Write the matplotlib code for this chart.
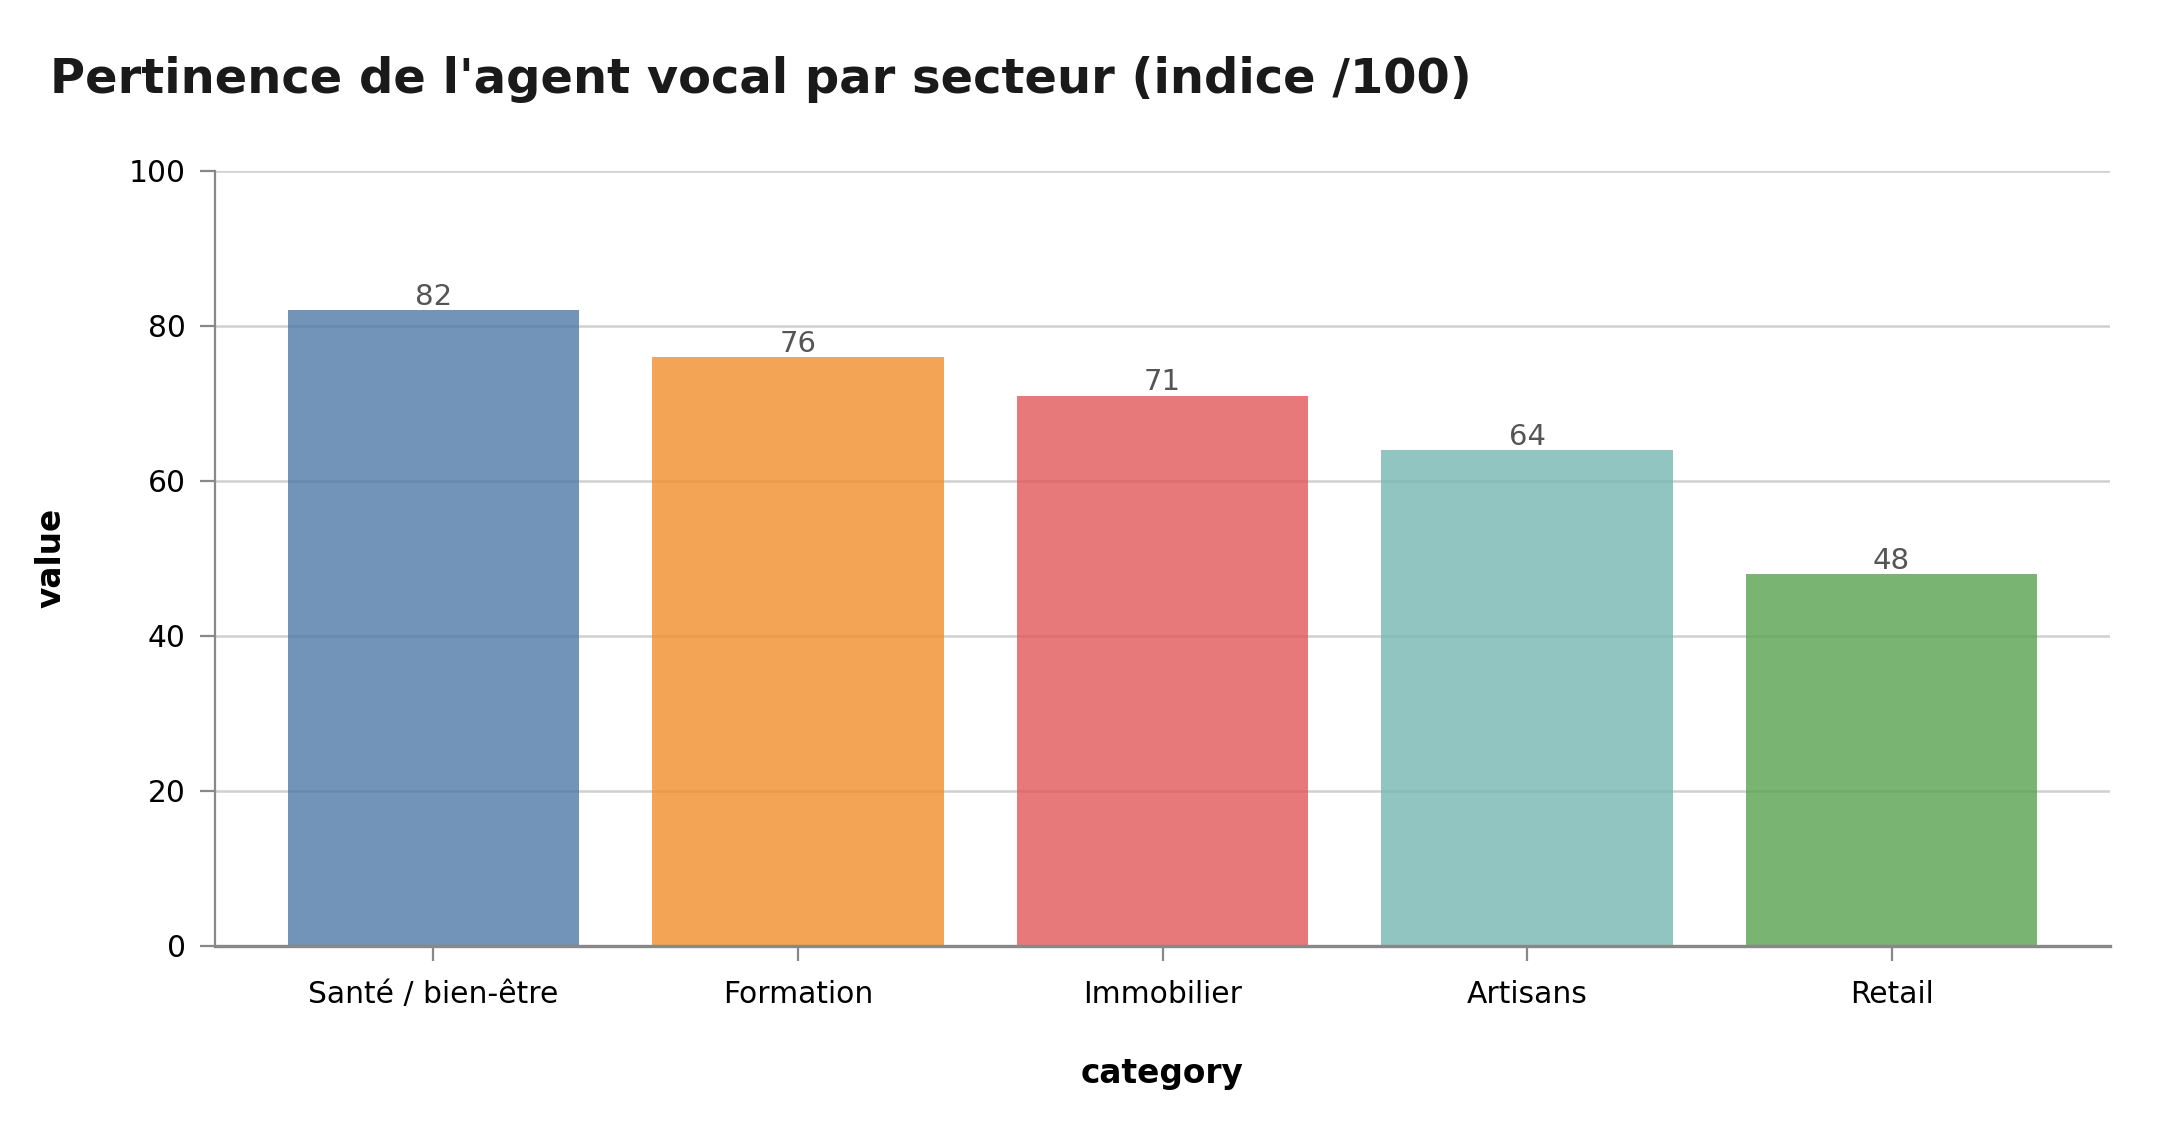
import numpy as np
import matplotlib.pyplot as plt

categories = ['Santé / bien-être', 'Formation', 'Immobilier', 'Artisans', 'Retail']
values = [82, 76, 71, 64, 48]
colors = ['#4e79a7', '#f28e2b', '#e15759', '#76b7b2', '#59a14f']
y_ticks = [0, 20, 40, 60, 80, 100]

plt.rcParams['font.family'] = ['DejaVu Sans']

fig = plt.figure(figsize=(10.8, 5.7), dpi=200)
ax = fig.add_axes([0.0994, 0.1705, 0.8776, 0.6795])

x = np.arange(len(categories))
bars = ax.bar(x, values, width=0.8, color=colors, alpha=0.8, zorder=2)

# etiquettes au-dessus des barres
for xi, v in zip(x, values):
    ax.text(xi, v - 0.1, str(v), ha='center', va='bottom', fontsize=10.5, color='#555555')

ax.set_xlim(-0.6, 4.6)
ax.set_ylim(0, 100)
ax.set_yticks(y_ticks)
ax.set_xticks(x)
ax.set_xticklabels(categories)
ax.grid(axis='y', color='#d0d0d0', linewidth=0.9, zorder=0)

for s in ['top', 'right']:
    ax.spines[s].set_visible(False)
ax.spines['left'].set_color('#888888')
ax.spines['bottom'].set_color('#888888')
ax.spines['bottom'].set_linewidth(1.2)
ax.tick_params(axis='x', colors='#888888', labelcolor='black', length=5.5, pad=7, labelsize=10.7)
ax.tick_params(axis='y', colors='#888888', labelcolor='black', length=5.5, pad=5, labelsize=10.7)

ax.set_xlabel('category', fontsize=11.8, fontweight='bold', labelpad=17)
ax.set_ylabel('value', fontsize=11.8, fontweight='bold', labelpad=22)

fig.text(0.023, 0.93, "Pertinence de l'agent vocal par secteur (indice /100)",
         fontsize=17.3, fontweight='bold', color='#1a1a1a', ha='left', va='center')

fig.savefig('out.png', dpi=200)
